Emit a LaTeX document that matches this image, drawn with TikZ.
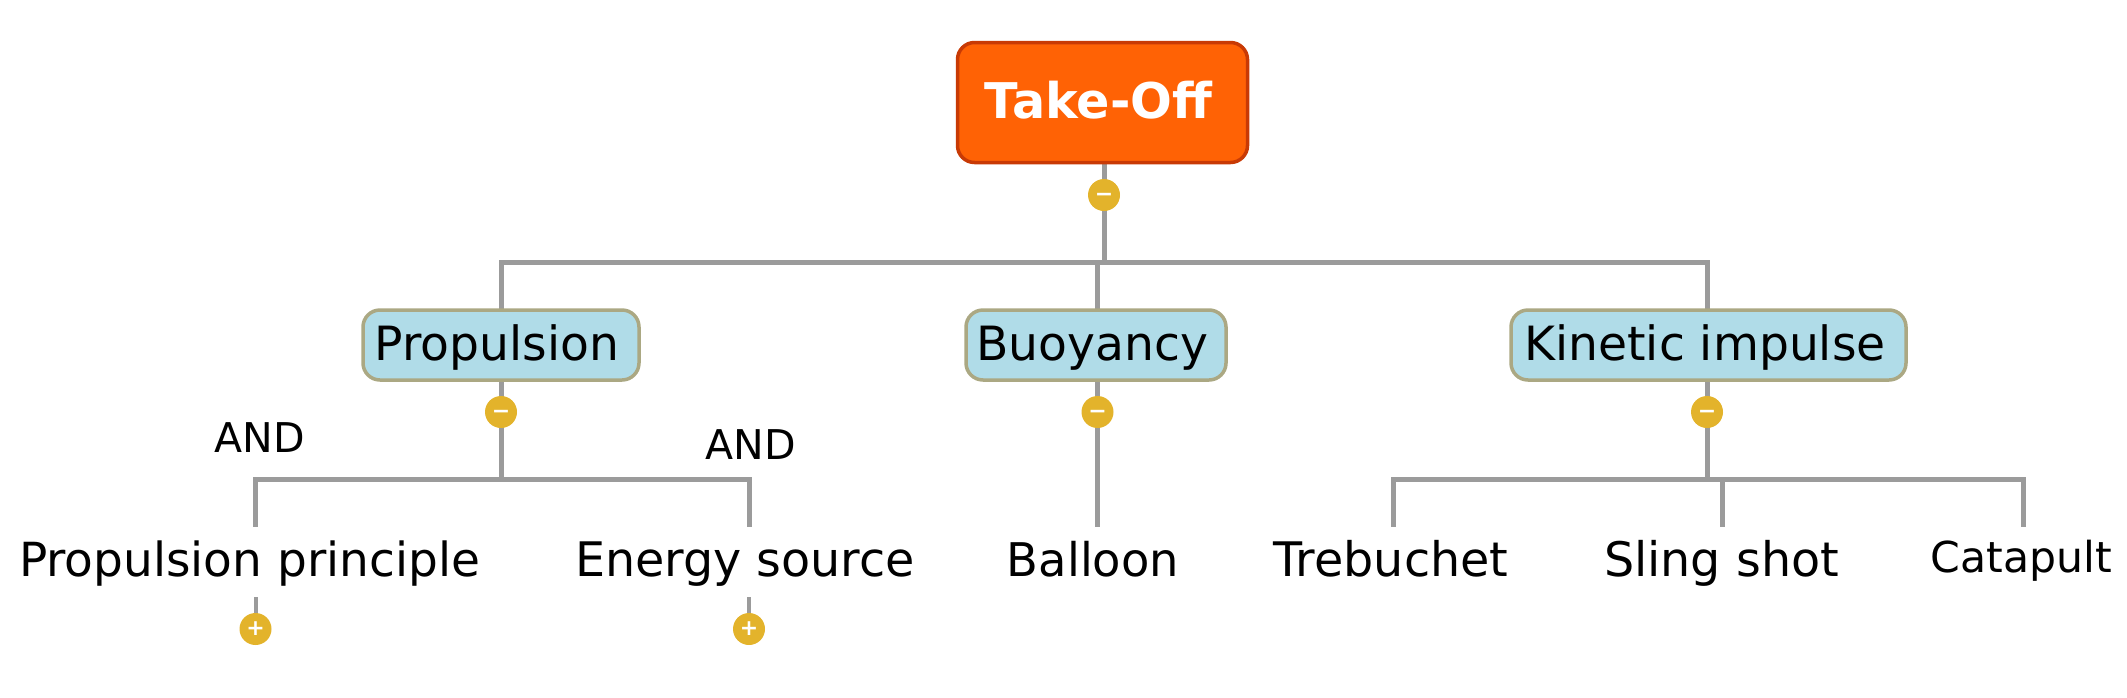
\documentclass[tikz,border=0pt]{standalone}
\usepackage{fontspec}
\setmainfont{DejaVu Sans}
\definecolor{linegray}{HTML}{9B9B9B}
\definecolor{rootfill}{HTML}{FF6205}
\definecolor{rootline}{HTML}{C83A05}
\definecolor{topicfill}{HTML}{B0DCE8}
\definecolor{topicline}{HTML}{ABA883}
\definecolor{btnfill}{HTML}{E3B32B}
\tikzset{
  link/.style={draw=linegray,line width=5pt},
  rootbox/.style={draw=rootline,line width=3.5pt,fill=rootfill,rounded corners=17pt,text=white,
    font=\fontsize{49.2pt}{52pt}\selectfont\bfseries,inner sep=0pt,minimum width=290pt,minimum height=120pt,
    text height=31pt,text depth=0pt},
  topicbox/.style={draw=topicline,line width=3.5pt,fill=topicfill,rounded corners=17pt,text=black,
    font=\fontsize{47.2pt}{50pt}\selectfont,inner sep=0pt,minimum height=70pt,
    text height=31.4pt,text depth=0pt},
  leaf/.style={anchor=base,inner sep=0pt,text=black,font=\fontsize{47.6pt}{50pt}\selectfont},
  leafnarrow/.style={leaf,font=\fontsize{47pt}{50pt}\selectfont},
  leafshort/.style={leaf,font=\fontsize{46.4pt}{50pt}\selectfont},
  smallleaf/.style={anchor=base,inner sep=0pt,text=black,font=\fontsize{42.6pt}{46pt}\selectfont},
  andlabel/.style={anchor=center,inner sep=0pt,text=black,font=\fontsize{41pt}{44pt}\selectfont},
  btn/.style={circle,fill=btnfill,minimum size=32pt,inner sep=0pt,text=white,
    font=\fontsize{22pt}{22pt}\selectfont\bfseries,text height=13.8pt,text depth=0pt},
}
\begin{document}
\begin{tikzpicture}[x=1pt,y=-1pt]
\useasboundingbox (0,0) rectangle (2127,697);
% junction and end coordinates
\coordinate (j0) at (1104,262);
\coordinate (jp) at (501,262);
\coordinate (jb) at (1097.5,262);
\coordinate (jk) at (1707,262);
\coordinate (h1) at (501,479);
\coordinate (h1l) at (255.5,479);
\coordinate (h1r) at (749,479);
\coordinate (h3) at (1707,479);
\coordinate (h3l) at (1393,479);
\coordinate (h3m) at (1722,479);
\coordinate (h3r) at (2023,479);
\coordinate (epp) at (255.5,527);
\coordinate (ees) at (749,527);
\coordinate (eba) at (1097.5,527);
\coordinate (etr) at (1393,527);
\coordinate (esl) at (1722,527);
\coordinate (eca) at (2023,527);
\coordinate (spp) at (255.5,597);
\coordinate (ses) at (749,597);
% connectors
\draw[link] (1104,164) -- (j0);
\draw[link,line cap=rect] (jp) -- (jk);
\draw[link] (jp) -- (501,309);
\draw[link] (jb) -- (1097.5,309);
\draw[link] (jk) -- (1707,309);
\draw[link] (501,381) -- (h1);
\draw[link] (1097.5,381) -- (eba);
\draw[link] (1707,381) -- (h3);
\draw[link,line cap=rect] (h1l) -- (h1r);
\draw[link] (h1l) -- (epp);
\draw[link] (h1r) -- (ees);
\draw[link,line cap=rect] (h3l) -- (h3r);
\draw[link] (h3l) -- (etr);
\draw[link] (h3m) -- (esl);
\draw[link] (h3r) -- (eca);
\draw[link,line width=4pt] (spp) -- (255.5,629);
\draw[link,line width=4pt] (ses) -- (749,629);
% nodes
\node[rootbox] (root) at (1102.5,102.5) {Take-Off\kern8pt};
\node[topicbox,minimum width=276pt] (prop) at (501,345) {Propulsion\kern8pt};
\node[topicbox,minimum width=260pt] (buoy) at (1096,345) {Buoyancy\kern7pt};
\node[topicbox,minimum width=395pt] (kin) at (1708.5,345) {Kinetic impulse\kern7pt};
\node[btn] (b0) at (1104,195) {−};
\node[btn] (b1) at (501,412) {−};
\node[btn] (b2) at (1097.5,412) {−};
\node[btn] (b3) at (1707,412) {−};
\node[btn] (b4) at (255.5,629) {+};
\node[btn] (b5) at (749,629) {+};
\node[leafnarrow] (pp) at (249.5,576) {Propulsion principle};
\node[leaf] (es) at (745,576) {Energy source};
\node[leafshort] (ba) at (1093,576) {Balloon};
\node[leaf] (tr) at (1391,576) {Trebuchet};
\node[leaf] (sl) at (1721.5,576) {Sling shot};
\node[smallleaf] (ca) at (2021.5,572) {Catapult};
\node[andlabel] (and1) at (260,438) {AND};
\node[andlabel] (and2) at (751,445) {AND};
\end{tikzpicture}
\end{document}
